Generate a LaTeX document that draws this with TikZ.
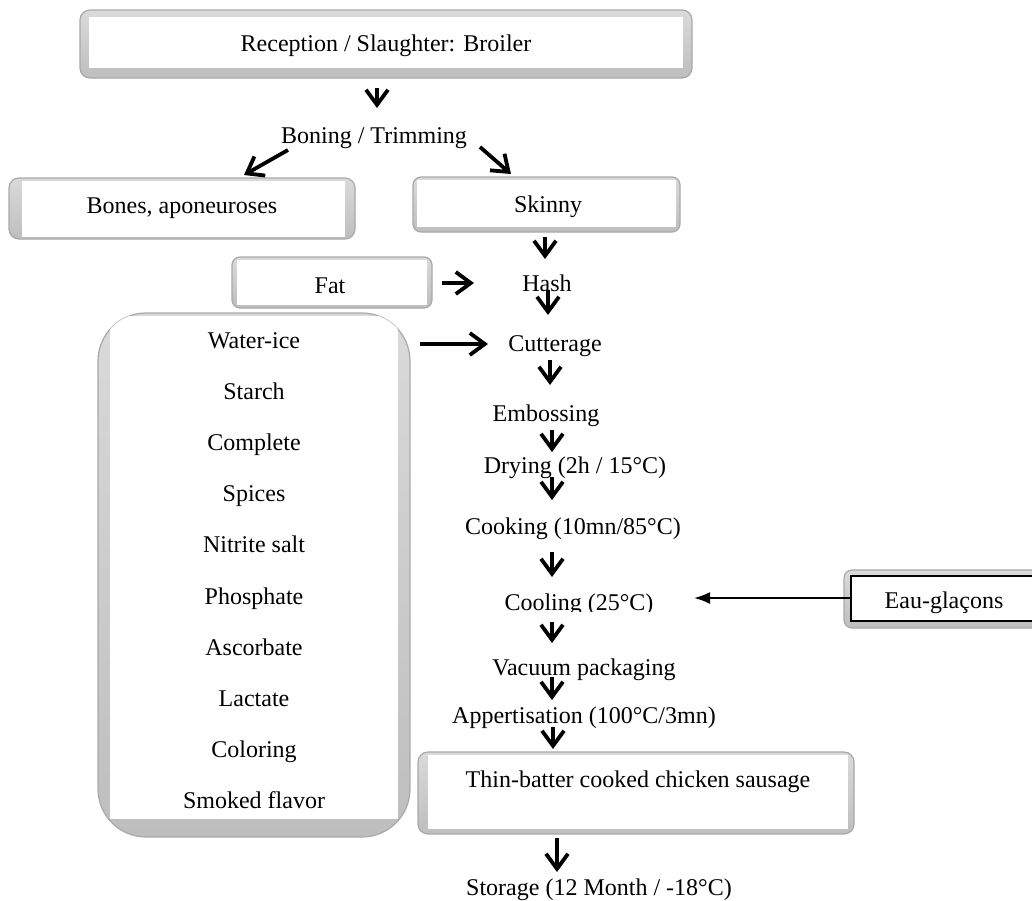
\documentclass[tikz,border=0pt]{standalone}
\usepackage{fontspec}
\setmainfont{Liberation Serif}
\usetikzlibrary{arrows.meta}
\definecolor{bevtop}{HTML}{DADADA}
\definecolor{bevbot}{HTML}{BEBEBE}
\definecolor{bevline}{HTML}{A9A9A9}
\newcommand\bevbox[9]{%
  \begin{scope}
  \path[draw=bevline,line width=1.2pt,top color=bevtop,bottom color=bevbot,rounded corners=#5] (#1,#2) rectangle (#3,#4);
  \clip[rounded corners=#5] (#1,#2) rectangle (#3,#4);
  \fill[white] ({#1+#6},{#2+#7}) rectangle ({#3-#8},{#4-#9});
  \end{scope}}
\begin{document}
\begin{tikzpicture}[x=1pt,y=-1pt,
  txt/.style={font=\fontsize{24}{28}\selectfont, anchor=base, inner sep=0pt, text=black},
  arr/.style={line width=3.8pt, -{Straight Barb[length=15pt,width=22pt]}},
  thinarr/.style={line width=2pt, -{Latex[length=16pt,width=12pt]}}]
\useasboundingbox (0,0) rectangle (1032,900);
\clip (0,0) rectangle (1032,900);
\fill[white] (0,0) rectangle (1032,900);

% boxes
\bevbox{80}{10}{692}{78}{10pt}{9}{7}{9}{10}
\bevbox{9}{178}{355}{239}{10pt}{13}{3}{10}{2}
\bevbox{413}{177}{680}{232}{8pt}{4}{3}{4}{5}
\bevbox{232}{257}{432}{308}{8pt}{5}{3}{5}{3}
\bevbox{98}{313}{410}{837}{48pt}{12}{3}{12}{18}
\bevbox{418}{752}{854}{834}{10pt}{10}{3}{6}{5}
\path[draw=bevline,line width=1.2pt,top color=bevtop,bottom color=bevbot,rounded corners=8pt] (844,570) rectangle (1050,628);
\draw[black,line width=1.5pt,fill=white] (851,576) rectangle (1045,621);

% texts
\node[txt] (recep) at (386,51) {Reception / Slaughter: Broiler};
\node[txt] (boning) at (374,143) {Boning / Trimming};
\node[txt] (bones) at (182,213) {Bones, aponeuroses};
\node[txt] (skinny) at (548,212) {Skinny};
\node[txt] (fat) at (330,293) {Fat};
\node[txt] (hash) at (547,291) {Hash};
\foreach \t [count=\i from 0] in {Water-ice,Starch,Complete,Spices,Nitrite salt,Phosphate,Ascorbate,Lactate,Coloring,Smoked flavor}
  \node[txt] (ing\i) at (254,{348+51.2*\i}) {\t};
\node[txt] (cutter) at (555,351) {Cutterage};
\node[txt] (emboss) at (546,421) {Embossing};
\node[txt] (drying) at (575,473) {Drying (2h / 15°C)};
\node[txt] (cooking) at (573,534) {Cooking (10mn/85°C)};
\begin{scope}
  \clip (480,570) rectangle (700,611.5);
  \node[txt] (cooling) at (579,610) {Cooling (25°C)};
\end{scope}
\node[txt] (vacuum) at (584,675) {Vacuum packaging};
\node[txt] (appert) at (584,723) {Appertisation (100°C/3mn)};
\node[txt] (sausage) at (638,787) {Thin-batter cooked chicken sausage};
\node[txt] (storage) at (599,895) {Storage (12 Month / -18°C)};
\node[txt] (eau) at (944,608) {Eau-glaçons};

% arrow end points
\coordinate (a1s) at (377,88);  \coordinate (a1e) at (377,108);
\coordinate (a2s) at (288,150); \coordinate (a2e) at (244,175);
\coordinate (a3s) at (480,147); \coordinate (a3e) at (511,174);
\coordinate (a4s) at (545,237); \coordinate (a4e) at (545,259);
\coordinate (a5s) at (442,283); \coordinate (a5e) at (474,283);
\coordinate (a6s) at (548,290); \coordinate (a6e) at (548,315);
\coordinate (a7s) at (420,344); \coordinate (a7e) at (488,344);
\coordinate (a8s) at (550,360); \coordinate (a8e) at (550,385);
\coordinate (a9s) at (552,430); \coordinate (a9e) at (552,452);
\coordinate (a10s) at (552,477); \coordinate (a10e) at (552,500);
\coordinate (a11s) at (552,552); \coordinate (a11e) at (552,577);
\coordinate (a12s) at (552,622); \coordinate (a12e) at (552,643);
\coordinate (a13s) at (552,677); \coordinate (a13e) at (552,700);
\coordinate (a14s) at (553,727); \coordinate (a14e) at (553,749);
\coordinate (a15s) at (557,838); \coordinate (a15e) at (557,872);
\coordinate (a16s) at (851,598); \coordinate (a16e) at (694,598);

\draw[arr] (a1s) -- (a1e);
\draw[arr] (a2s) -- (a2e);
\draw[arr] (a3s) -- (a3e);
\draw[arr] (a4s) -- (a4e);
\draw[arr] (a5s) -- (a5e);
\draw[arr] (a6s) -- (a6e);
\draw[arr] (a7s) -- (a7e);
\draw[arr] (a8s) -- (a8e);
\draw[arr] (a9s) -- (a9e);
\draw[arr] (a10s) -- (a10e);
\draw[arr] (a11s) -- (a11e);
\draw[arr] (a12s) -- (a12e);
\draw[arr] (a13s) -- (a13e);
\draw[arr] (a14s) -- (a14e);
\draw[arr] (a15s) -- (a15e);
\draw[thinarr] (a16s) -- (a16e);
\end{tikzpicture}
\end{document}
